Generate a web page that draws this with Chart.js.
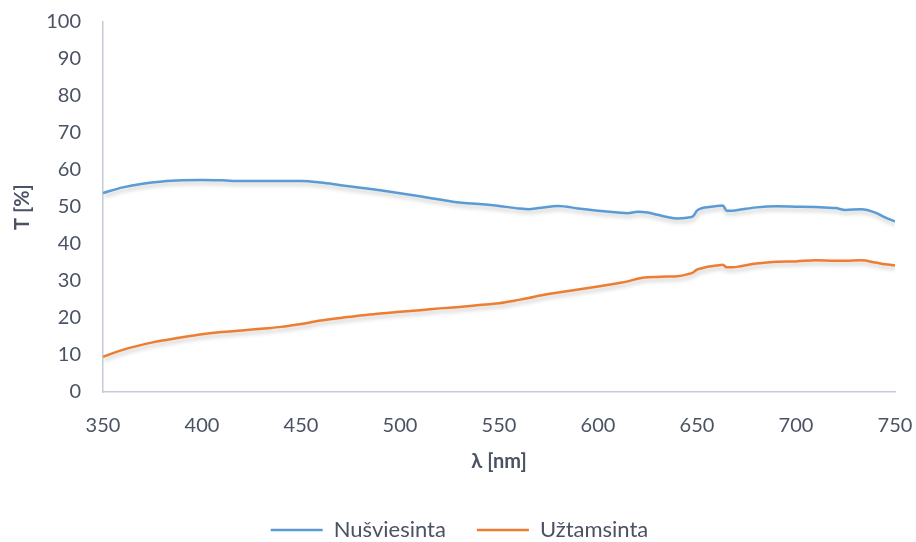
<!DOCTYPE html>
<html>
<head>
<meta charset="utf-8">
<script src="https://cdn.jsdelivr.net/npm/chart.js@4/dist/chart.umd.min.js"></script>
<style>
  html, body { margin: 0; padding: 0; background: #ffffff; }
  #wrap { width: 916px; height: 542px; }
</style>
</head>
<body>
<div id="wrap"><canvas id="c" width="916" height="542"></canvas></div>
<script>
// Wavelengths (nm) at which transmittance was sampled
const wavelengths = [350,360,370,380,390,400,410,420,430,440,450,460,470,480,490,500,510,520,530,540,550,560,565,570,580,590,600,610,615,620,625,630,635,640,645,648,650,652,656,660,663,665,668,672,680,690,700,710,720,725,733,740,745,750];

// Transmittance T (%) – bleached state
const nusviesinta = [53.8,55.3,56.3,56.9,57.2,57.3,57.2,57.0,57.0,57.0,57.0,56.6,55.9,55.2,54.5,53.7,52.9,52.0,51.2,50.8,50.3,49.6,49.4,49.7,50.3,49.6,49.0,48.5,48.3,48.7,48.5,47.9,47.3,46.9,47.1,47.5,49.0,49.6,50.0,50.3,50.4,49.0,49.0,49.3,49.9,50.2,50.1,50.0,49.7,49.2,49.4,48.5,47.2,46.1];

// Transmittance T (%) – coloured state
const uztamsinta = [9.5,11.4,12.8,13.9,14.8,15.6,16.2,16.6,17.1,17.6,18.4,19.3,20.0,20.7,21.2,21.7,22.1,22.6,23.0,23.5,24.0,24.9,25.4,26.0,26.9,27.7,28.5,29.4,29.9,30.6,31.0,31.1,31.2,31.3,31.8,32.3,33.1,33.4,33.9,34.2,34.4,33.7,33.7,34.0,34.7,35.2,35.3,35.6,35.5,35.5,35.6,35.0,34.5,34.2];

const seriesNames = ["Nušviesinta", "Užtamsinta"];
const xTicks = [350,400,450,500,550,600,650,700,750];
const yTicks = [0,10,20,30,40,50,60,70,80,90,100];

const toPoints = vals => wavelengths.map((w, i) => ({ x: w, y: vals[i] }));

const textColor = "#4a5263";
const axisColor = "#c5cbd6";
const baseFont = "Lato, 'Open Sans', sans-serif";

// Soft drop shadow under the lines
const lineShadow = {
  id: "lineShadow",
  beforeDatasetsDraw(chart) {
    const ctx = chart.ctx;
    ctx.save();
    ctx.shadowColor = "rgba(0,0,0,0.22)";
    ctx.shadowBlur = 4;
    ctx.shadowOffsetX = 1;
    ctx.shadowOffsetY = 3;
  },
  afterDatasetsDraw(chart) {
    chart.ctx.restore();
  }
};

// Keep the legend band a fixed height while items stay widely spaced,
// and centre the row without its trailing gap
const legendBand = {
  id: "legendBand",
  beforeLayout(chart) {
    const lg = chart.legend;
    if (lg && !lg._bandPatched) {
      const origFit = lg.fit;
      lg.fit = function () {
        origFit.call(this);
        this.height = 54;
        if (this.lineWidths) {
          this.lineWidths = this.lineWidths.map(w => w - 24);
        }
      };
      lg._bandPatched = true;
    }
  }
};

new Chart(document.getElementById("c"), {
  type: "line",
  data: {
    datasets: [
      {
        label: seriesNames[0],
        data: toPoints(nusviesinta),
        borderColor: "#5b9bd5",
        backgroundColor: "#5b9bd5",
        borderWidth: 2.5,
        pointRadius: 0,
        cubicInterpolationMode: "monotone",
        fill: false
      },
      {
        label: seriesNames[1],
        data: toPoints(uztamsinta),
        borderColor: "#ed7d31",
        backgroundColor: "#ed7d31",
        borderWidth: 2.5,
        pointRadius: 0,
        cubicInterpolationMode: "monotone",
        fill: false
      }
    ]
  },
  options: {
    responsive: false,
    animation: false,
    events: [],
    layout: { padding: { top: 22, right: 21, bottom: 0, left: 0 } },
    scales: {
      x: {
        type: "linear",
        min: 350,
        max: 750,
        afterBuildTicks(scale) { scale.ticks = xTicks.map(v => ({ value: v })); },
        afterFit(scale) {
          scale.height = 96;
          scale.paddingLeft = 0;
          scale.paddingRight = 0;
        },
        grid: { display: true, drawOnChartArea: false, drawTicks: false },
        border: { display: true, color: axisColor, width: 1.5 },
        ticks: {
          padding: 22,
          color: textColor,
          font: { family: baseFont, size: 20 }
        },
        title: {
          display: true,
          text: "λ [nm]",
          color: textColor,
          font: { family: baseFont, size: 20, weight: "bold" },
          padding: { top: 0, bottom: 14 }
        }
      },
      y: {
        type: "linear",
        min: 0,
        max: 100,
        afterBuildTicks(scale) { scale.ticks = yTicks.map(v => ({ value: v })); },
        afterFit(scale) {
          scale.width = 103;
          scale.paddingTop = 0;
          scale.paddingBottom = 0;
        },
        grid: { display: true, drawOnChartArea: false, drawTicks: false },
        border: { display: true, color: axisColor, width: 1.5 },
        ticks: {
          padding: 22,
          color: textColor,
          font: { family: baseFont, size: 20 }
        },
        title: {
          display: true,
          text: "T [%]",
          color: textColor,
          font: { family: baseFont, size: 20, weight: "bold" },
          padding: { top: 11, bottom: 0 }
        }
      }
    },
    plugins: {
      legend: {
        position: "bottom",
        labels: {
          usePointStyle: true,
          pointStyle: "line",
          pointStyleWidth: 52,
          boxHeight: 20,
          padding: 31,
          color: textColor,
          font: { family: baseFont, size: 22 }
        }
      },
      tooltip: { enabled: false }
    }
  },
  plugins: [lineShadow, legendBand]
});
</script>
</body>
</html>
